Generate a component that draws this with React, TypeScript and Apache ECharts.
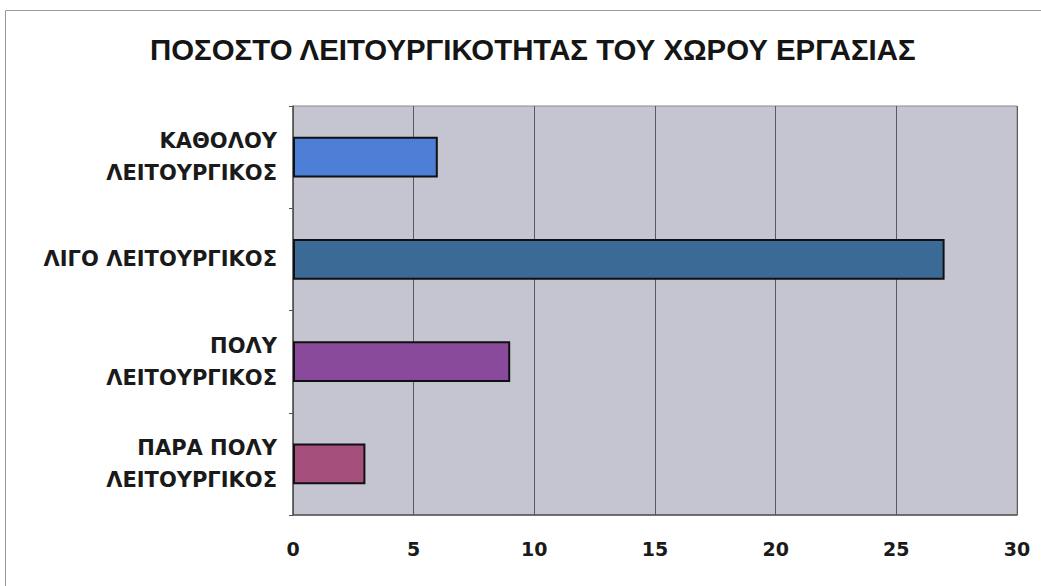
import React, { useEffect, useRef } from "react";
import * as echarts from "echarts";

const titleText = "ΠΟΣΟΣΤΟ ΛΕΙΤΟΥΡΓΙΚΟΤΗΤΑΣ ΤΟΥ ΧΩΡΟΥ ΕΡΓΑΣΙΑΣ";
const categories = [
  "ΚΑΘΟΛΟΥ\nΛΕΙΤΟΥΡΓΙΚΟΣ",
  "ΛΙΓΟ ΛΕΙΤΟΥΡΓΙΚΟΣ",
  "ΠΟΛΥ\nΛΕΙΤΟΥΡΓΙΚΟΣ",
  "ΠΑΡΑ ΠΟΛΥ\nΛΕΙΤΟΥΡΓΙΚΟΣ",
];
const values = [6, 27, 9, 3];
const barColors = ["#4d7fd6", "#3b6a97", "#8a4a9c", "#a54f7c"];
const xMin = 0;
const xMax = 30;
const xInterval = 5;

export default function App() {
  const ref = useRef<HTMLDivElement>(null);
  useEffect(() => {
    if (!ref.current) return;
    const chart = echarts.init(ref.current, null, { renderer: "svg" });
    const titleFont = "'Liberation Sans', Arial, sans-serif";
    const font = "'DejaVu Sans', sans-serif";
    chart.setOption({
      animation: false,
      backgroundColor: "#ffffff",
      title: {
        text: titleText,
        left: 145,
        top: 30,
        textStyle: {
          fontFamily: titleFont,
          fontWeight: "bold",
          fontSize: 29.4,
          color: "#151515",
        },
      },
      graphic: [
        {
          type: "rect",
          shape: { x: 5.5, y: 10.5, width: 1040, height: 580 },
          style: { fill: "none", stroke: "#9a9a9a", lineWidth: 1 },
          silent: true,
        },
      ],
      grid: {
        left: 293,
        right: 24,
        top: 106,
        bottom: 71,
        show: true,
        backgroundColor: "#c5c5d1",
        borderColor: "#8a8a8a",
        borderWidth: 1,
      },
      xAxis: {
        type: "value",
        min: xMin,
        max: xMax,
        interval: xInterval,
        axisLine: { show: true, lineStyle: { color: "#555", width: 1.5 } },
        axisTick: { show: false },
        axisLabel: {
          margin: 24,
          fontFamily: font,
          fontWeight: "bold",
          fontSize: 19,
          color: "#1a1a1a",
        },
        splitLine: { show: true, lineStyle: { color: "#5a5a5a", width: 1 } },
      },
      yAxis: {
        type: "category",
        data: categories,
        inverse: true,
        axisLine: { show: true, lineStyle: { color: "#555", width: 1.5 } },
        axisTick: { show: true, length: 4, lineStyle: { color: "#555" } },
        axisLabel: {
          margin: 16,
          fontFamily: font,
          fontWeight: "bold",
          fontSize: 21,
          lineHeight: 32,
          color: "#1a1a1a",
          align: "right",
        },
        splitLine: { show: false },
      },
      series: [
        {
          type: "bar",
          data: values.map((v, i) => ({
            value: v,
            itemStyle: { color: barColors[i] },
          })),
          barWidth: "40%",
          itemStyle: { borderColor: "#111", borderWidth: 2 },
        },
      ],
    });
    return () => chart.dispose();
  }, []);
  return (
    <div
      ref={ref}
      style={{ position: "absolute", left: 0, top: 0, width: 1041, height: 586 }}
    />
  );
}
